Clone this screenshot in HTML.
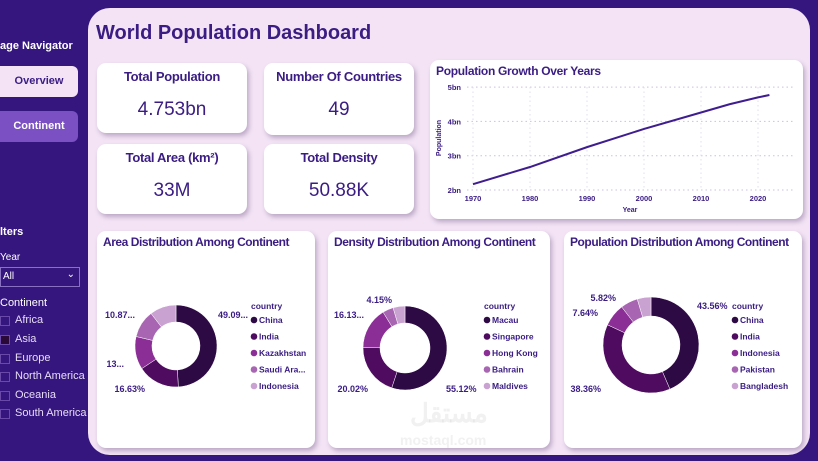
<!DOCTYPE html>
<html><head><meta charset="utf-8"><style>
*{margin:0;padding:0;box-sizing:border-box}
body{width:818px;height:461px;overflow:hidden;background:#35167f;font-family:"Liberation Sans",sans-serif;position:relative}
.abs{position:absolute}
.panel{left:88px;top:8px;width:722px;height:447px;background:#f3e3f5;border-radius:22px}
.card{background:#fff;border-radius:9px;box-shadow:2px 3px 5px rgba(90,60,110,.35)}
.kt{font-weight:bold;font-size:13px;letter-spacing:-0.3px;color:#3a1c83;text-align:center;width:100%;top:6px}
.kv{font-size:19px;color:#3a1c83;text-align:center;width:100%;top:36px}
.side{color:#fff;font-size:11px;font-weight:bold}
.cb{left:0;width:10px;height:10px;border:1px solid #6a4aa8}
.cl{left:15px;color:#e8dcf5;font-size:11px}
.ct{font-weight:bold;font-size:12px;letter-spacing:-0.45px;color:#3a1c83;left:6px;top:4px;white-space:nowrap}
</style></head><body>
<div class="abs side" style="left:0;top:40px">age Navigator</div>
<div class="abs" style="left:0;top:66px;width:78px;height:31px;background:#f3e3f5;border-radius:0 6px 6px 0;color:#3a1c83;font-size:11px;font-weight:bold;text-align:center;line-height:31px">Overview</div>
<div class="abs" style="left:0;top:111px;width:78px;height:31px;background:#7b50c2;border-radius:0 6px 6px 0;color:#fff;font-size:11px;font-weight:bold;text-align:center;line-height:31px">Continent</div>
<div class="abs side" style="left:0;top:226px">lters</div>
<div class="abs" style="left:0;top:252px;color:#fff;font-size:10px">Year</div>
<div class="abs" style="left:0;top:267px;width:80px;height:20px;border:1px solid #8a70c0;color:#fff;font-size:10px;padding:3px 2px">All<span style="position:absolute;right:4px;top:1px">⌄</span></div>
<div class="abs" style="left:0;top:297px;color:#fff;font-size:11px">Continent</div>
<div class="abs cb" style="top:316px"></div><div class="abs cl" style="top:314px">Africa</div>
<div class="abs cb" style="top:335px;background:#2a0838"></div><div class="abs cl" style="top:333px">Asia</div>
<div class="abs cb" style="top:354px"></div><div class="abs cl" style="top:352px">Europe</div>
<div class="abs cb" style="top:372px"></div><div class="abs cl" style="top:370px">North America</div>
<div class="abs cb" style="top:391px"></div><div class="abs cl" style="top:389px">Oceania</div>
<div class="abs cb" style="top:409px"></div><div class="abs cl" style="top:407px">South America</div>

<div class="abs panel"></div>
<div class="abs" style="left:96px;top:22px;font-size:20px;font-weight:bold;color:#3a1c83">World Population Dashboard</div>

<div class="abs card" style="left:97px;top:63px;width:150px;height:70px"><div class="abs kt">Total Population</div><div class="abs kv">4.753bn</div></div>
<div class="abs card" style="left:264px;top:63px;width:150px;height:72px"><div class="abs kt">Number Of Countries</div><div class="abs kv">49</div></div>
<div class="abs card" style="left:97px;top:144px;width:150px;height:70px"><div class="abs kt">Total Area (km²)</div><div class="abs kv">33M</div></div>
<div class="abs card" style="left:264px;top:144px;width:150px;height:70px"><div class="abs kt">Total Density</div><div class="abs kv">50.88K</div></div>

<div class="abs card" style="left:430px;top:60px;width:373px;height:159px"></div>
<div class="abs card" style="left:97px;top:231px;width:218px;height:217px"><div class="abs ct">Area Distribution Among Continent</div></div>
<div class="abs card" style="left:328px;top:231px;width:222px;height:217px"><div class="abs ct">Density Distribution Among Continent</div></div>
<div class="abs card" style="left:564px;top:231px;width:238px;height:217px"><div class="abs ct">Population Distribution Among Continent</div></div>
<div class="abs" style="left:410px;top:398px;font-size:26px;font-weight:bold;color:rgba(200,200,200,.25)">مستقل</div>
<div class="abs" style="left:400px;top:432px;font-size:14px;font-weight:bold;color:rgba(200,200,200,.25)">mostaql.com</div>

<svg class="abs" style="left:0;top:0" width="818" height="461" id="svg"></svg>
<script>
const years=[1970,1980,1990,2000,2010,2015,2020,2022];
const pops=[2.17,2.67,3.25,3.78,4.26,4.5,4.7,4.77];
const yTicks=[2,3,4,5];
const xTicks=[1970,1980,1990,2000,2010,2020];
const areaLabels=["China","India","Kazakhstan","Saudi Ara...","Indonesia"];
const areaVals=[49.09,16.63,13.0,10.87,10.41];
const densLabels=["Macau","Singapore","Hong Kong","Bahrain","Maldives"];
const densVals=[55.12,20.02,16.13,4.15,4.58];
const popLabels=["China","India","Indonesia","Pakistan","Bangladesh"];
const popVals=[43.56,38.36,7.64,5.82,4.62];
const colors=["#2e0a44","#4e0b5f","#8b2f97","#a866b2","#caa2d2"];
const NS="http://www.w3.org/2000/svg";
const svg=document.getElementById('svg');
function el(t,a,p){const e=document.createElementNS(NS,t);for(const k in a)e.setAttribute(k,a[k]);(p||svg).appendChild(e);return e;}
function txt(x,y,s,size,anchor,weight,fill){const t=el('text',{x:x,y:y,'font-size':size,'text-anchor':anchor||'start','font-weight':weight||'bold',fill:fill||'#3a1c83','font-family':'Liberation Sans, sans-serif'});t.textContent=s;return t;}
const X=y=>473+(y-1970)*5.7, Y=v=>190-(v-2)*34.3;
let t=txt(436,75,"Population Growth Over Years",12);
t.setAttribute('letter-spacing','-0.3');


yTicks.forEach(v=>{const g=el('line',{x1:467,x2:795,y1:Y(v),y2:Y(v),stroke:'#c9c0e0','stroke-dasharray':'1.5 3'});


const l=txt(461,Y(v)+3,v+"bn",7.5,'end');

});
xTicks.forEach(v=>{const g=el('line',{x1:X(v),x2:X(v),y1:87,y2:190,stroke:'#e2ddef','stroke-dasharray':'1.5 3'});


const l=txt(X(v),201,v,7.5,'middle');

});
t=txt(630,212,"Year",7,'middle');


t=txt(0,0,"Population",7,'middle');t.setAttribute('transform','translate(441,138) rotate(-90)');


const line=el('polyline',{points:years.map((y,i)=>X(y)+','+Y(pops[i])).join(' '),fill:'none',stroke:'#3f1d8f','stroke-width':2});


function donut(cx,cy,R,r,vals,labels,lx,name,pctPos){
 const tot=vals.reduce((a,b)=>a+b,0);let a0=-Math.PI/2;
 vals.forEach((v,i)=>{const a1=a0+v/tot*2*Math.PI;const lg=(a1-a0)>Math.PI?1:0;
  const p=(a,rr)=>[cx+rr*Math.cos(a),cy+rr*Math.sin(a)];
  const [x1,y1]=p(a0,R),[x2,y2]=p(a1,R),[x3,y3]=p(a1,r),[x4,y4]=p(a0,r);
  const s=el('path',{d:`M${x1},${y1}A${R},${R} 0 ${lg} 1 ${x2},${y2}L${x3},${y3}A${r},${r} 0 ${lg} 0 ${x4},${y4}Z`,fill:colors[i],stroke:'#fff','stroke-width':0.5});
  
  
  a0=a1;});
 let h=txt(lx,309,"country",8.5);
 
 
 labels.forEach((s,i)=>{const y=323+i*16.5;el('circle',{cx:lx+3,cy:y-3,r:3.3,fill:colors[i]});
  const l=txt(lx+8,y,s,8.5);
  
  });
 pctPos.forEach(p=>{const l=txt(p[0],p[1],p[2],9,p[3]);
  
  });
}
donut(176,346,41,24,areaVals,areaLabels,251,'area',[[218,318,areaVals[0].toFixed(2).slice(0,5)+"...",'start'],[135,318,"10.87...",'end'],[124,367,"13...",'end'],[145,392,areaVals[1]+"%",'end']]);
donut(405,348,42,25,densVals,densLabels,484,'density',[[446,392,densVals[0]+"%",'start'],[392,303,densVals[3]+"%",'end'],[364,318,"16.13...",'end'],[368,392,densVals[1]+"%",'end']]);
donut(651,345,48,29,popVals,popLabels,732,'population',[[697,309,popVals[0]+"%",'start'],[616,301,popVals[3]+"%",'end'],[598,316,popVals[2]+"%",'end'],[601,392,popVals[1]+"%",'end']]);
</script>
</body></html>
